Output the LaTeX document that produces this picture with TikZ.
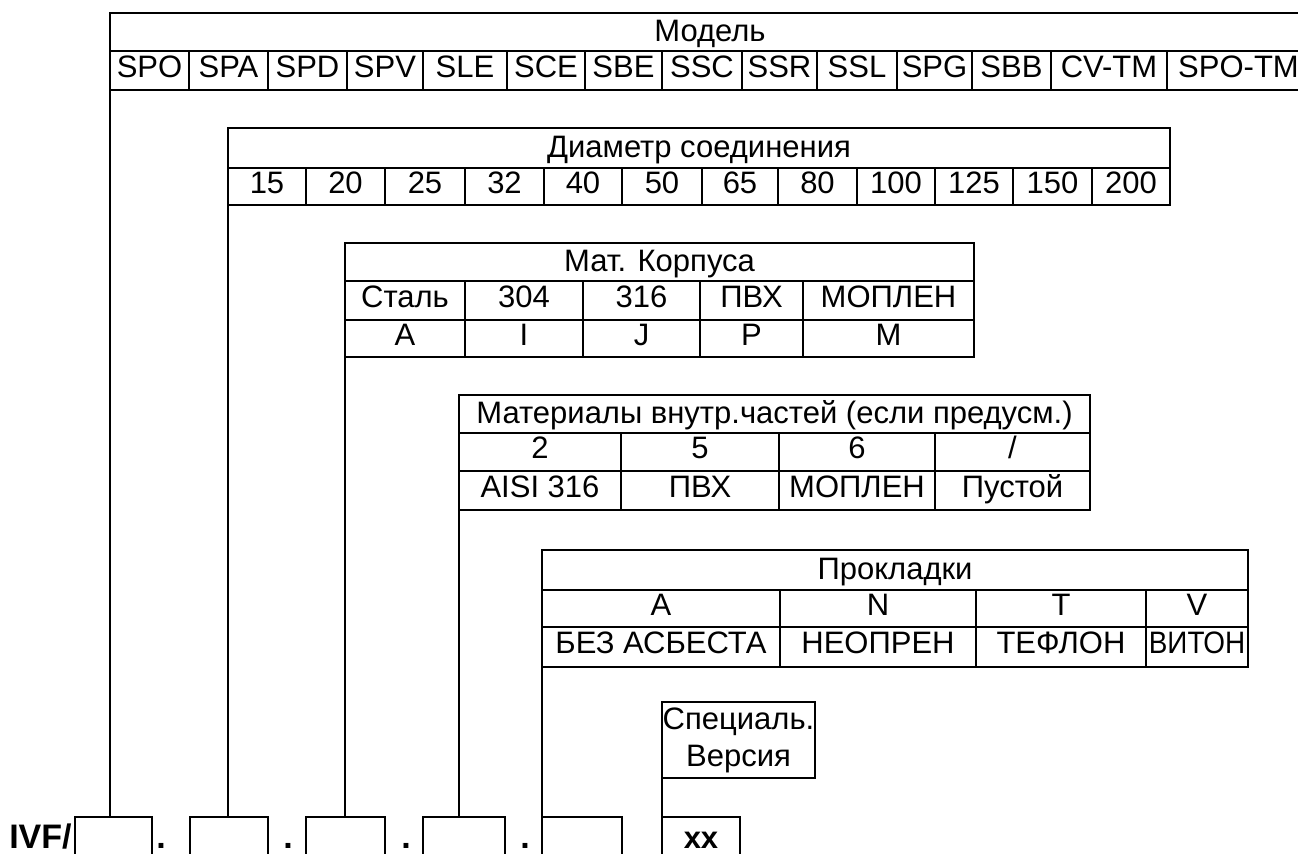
\documentclass[tikz,border=0pt]{standalone}
\usepackage{fontspec}
\setmainfont{Liberation Sans}
\newfontfamily\narrowfont{Liberation Sans}[FakeStretch=0.9]
\tikzset{
  wire/.style={line width=1.4pt, line cap=rect},
  cellbox/.style={draw, line width=1.4pt, inner sep=0pt, outer sep=0pt,
    font=\fontsize{15.5}{18}\selectfont, text height=0.72em, text depth=0.05em},
  hdr/.style={text height=0.98em},
  boldtxt/.style={font=\fontsize{17}{20}\selectfont\bfseries, inner sep=0pt},
}
\newcommand\mkcell[7][]{%
  \pgfmathsetmacro\mkw{(#5-#3)*0.5}%
  \pgfmathsetmacro\mkh{(#6-#4)*0.5}%
  \node[cellbox,#1,minimum width=\mkw pt,minimum height=\mkh pt] (#2) at ({(#3+#5)/2},{(#4+#6)/2}) {#7};}
\begin{document}
\begin{tikzpicture}[x=0.5pt,y=-0.5pt]
\useasboundingbox (0,0) rectangle (1298,853);
\clip (0,0) rectangle (1298,853);
\fill[white] (0,0) rectangle (1298,853);

% Model
\mkcell[hdr]{mh}{110}{13}{1310}{51}{Модель}
\foreach \a/\b/\t [count=\i] in {110/189/SPO,189/268/SPA,268/347/SPD,347/423/SPV,423/507/SLE,507/585/SCE,585/662/SBE,662/742/SSC,742/817/SSR,817/897/SSL,897/972/SPG,972/1051/SBB,1051/1167/CV-TM,1167/1310/SPO-TM}
  {\mkcell{m\i}{\a}{51}{\b}{90}{\t}}

% Diameter
\mkcell[hdr]{dh}{228}{128}{1170}{168}{Диаметр соединения}
\foreach \a/\b/\t [count=\i] in {228/306/15,306/385/20,385/465/25,465/544/32,544/622/40,622/702/50,702/778/65,778/857/80,857/935/100,935/1013/125,1013/1092/150,1092/1170/200}
  {\mkcell{d\i}{\a}{168}{\b}{205}{\t}}

% Body material
\mkcell[hdr]{kh}{345}{243}{974}{281}{Мат. Корпуса}
\foreach \a/\b/\t/\u [count=\i] in {345/465/Сталь/A,465/583/304/I,583/700/316/J,700/803/ПВХ/P,803/974/МОПЛЕН/M}
  {\mkcell{k\i}{\a}{281}{\b}{320}{\t}
   \mkcell{kc\i}{\a}{320}{\b}{357}{\u}}

% Internal parts
\mkcell[hdr]{ih}{459}{395}{1090}{433}{Материалы внутр.частей (если предусм.)}
\foreach \a/\b/\t/\u [count=\i] in {459/621/2/AISI 316,621/779/5/ПВХ,779/935/6/МОПЛЕН,935/1090/{/}/Пустой}
  {\mkcell{i\i}{\a}{433}{\b}{471}{\t}
   \mkcell{ic\i}{\a}{471}{\b}{510}{\u}}

% Gaskets
\mkcell[hdr]{gh}{542}{550}{1248}{590}{Прокладки}
\foreach \a/\b/\t/\u [count=\i] in {542/780/A/БЕЗ АСБЕСТА,780/976/N/НЕОПРЕН,976/1146/T/ТЕФЛОН,1146/1248/V/{\narrowfont ВИТОН}}
  {\mkcell{g\i}{\a}{590}{\b}{627}{\t}
   \mkcell{gc\i}{\a}{627}{\b}{667}{\u}}

% Special version
\node[draw, line width=1.4pt, inner sep=0pt, outer sep=0pt, minimum width=76.5pt, minimum height=38pt,
  align=center, font=\fontsize{15.5}{18.5}\selectfont] (sp) at (738.5,740) {Специаль.\\Версия};

% Code boxes
\mkcell{b1}{75}{817}{152}{880}{}
\mkcell{b2}{190}{817}{268}{880}{}
\mkcell{b3}{306}{817}{385}{880}{}
\mkcell{b4}{423}{817}{505}{880}{}
\mkcell{b5}{542}{817}{622}{880}{}
\mkcell{b6}{662}{817}{740}{880}{}

\node[boldtxt, anchor=base east] (ivf) at (72,848) {IVF/};
\node[boldtxt, anchor=base] (dot1) at (161,848) {.};
\node[boldtxt, anchor=base] (dot2) at (288,848) {.};
\node[boldtxt, anchor=base] (dot3) at (406,848) {.};
\node[boldtxt, anchor=base] (dot4) at (525,848) {.};
\node[boldtxt, anchor=base, font=\fontsize{15.5}{18}\selectfont\bfseries] (xx) at (701,848) {xx};

% Connectors
\draw[wire] (mh.north west) -- (mh.north west |- b1.north);
\draw[wire] (dh.north west) -- (dh.north west |- b2.north);
\draw[wire] (kh.north west) -- (kh.north west |- b3.north);
\draw[wire] (ih.north west) -- (ih.north west |- b4.north);
\draw[wire] (gh.north west) -- (gh.north west |- b5.north);
\draw[wire] (sp.north west) -- (sp.north west |- b6.north);
\end{tikzpicture}
\end{document}
